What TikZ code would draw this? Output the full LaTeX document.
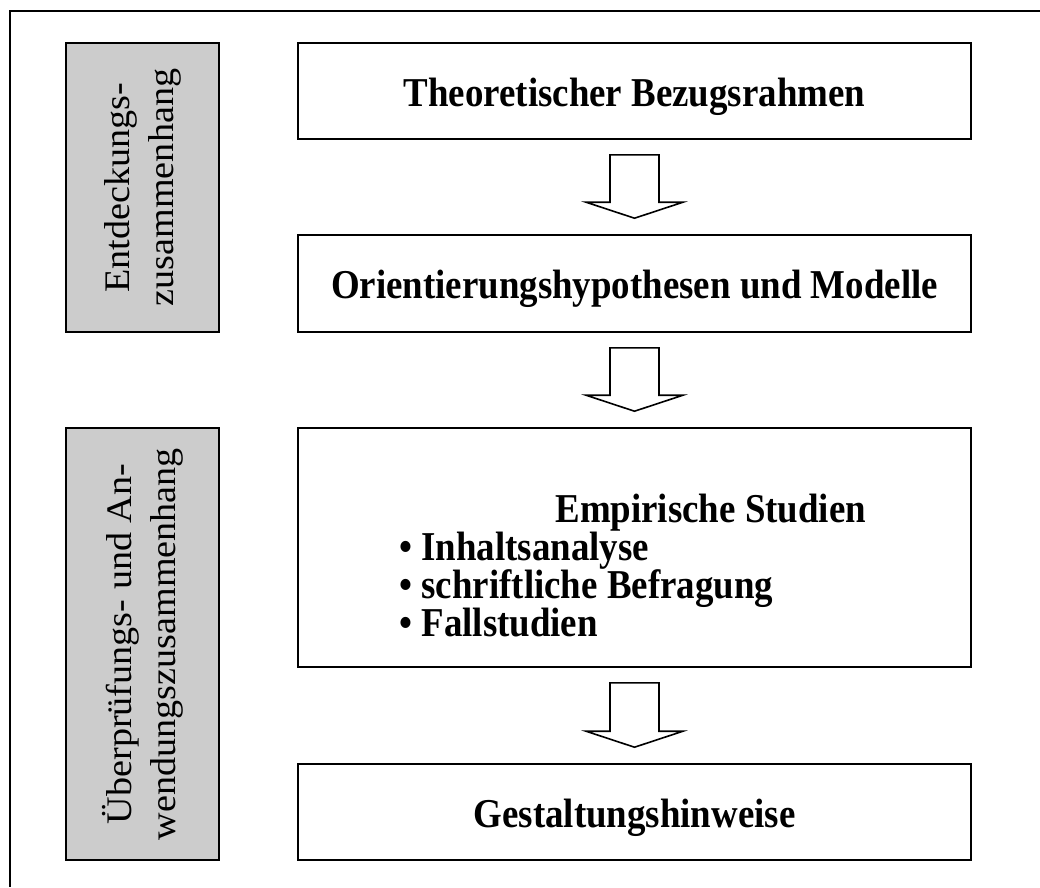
\documentclass[tikz,border=0pt]{standalone}
\usepackage{fontspec}
\setmainfont{Liberation Serif}
% narrow face for the stage boxes, wide face for the rotated phase labels
\newfontfamily\stagefont[FakeStretch=0.9]{Liberation Serif}
\newfontfamily\phasefont[FakeStretch=1.06]{Liberation Serif}
\usetikzlibrary{calc}
\definecolor{phasegray}{RGB}{204,204,204}
% hollow block arrow between two stacked boxes
\newcommand{\flowarrow}[2]{%
  \draw[flowarrow] let \p1=(#1.south), \p2=(#2.north) in
    (\x1-24.5pt,\y1-15pt) -- (\x1+24.5pt,\y1-15pt) -- (\x1+24.5pt,\y2+32pt)
    -- (\x1+48.5pt,\y2+32pt) -- (\x1,\y2+16pt) -- (\x1-48.5pt,\y2+32pt)
    -- (\x1-24.5pt,\y2+32pt) -- cycle;}
\begin{document}
\begin{tikzpicture}[x=1pt,y=-1pt,
  stage/.style={draw=black, line width=1.6pt, fill=white, minimum width=673pt,
    inner sep=0pt, text height=30pt, text depth=0pt,
    font=\stagefont\fontsize{41}{44}\selectfont\bfseries},
  phase/.style={draw=black, line width=1.6pt, fill=phasegray,
    minimum width=153pt, inner sep=0pt},
  phasetext/.style={rotate=90, align=center, inner sep=0pt,
    font=\phasefont\fontsize{36}{44}\selectfont},
  itemtext/.style={anchor=base west, inner sep=0pt,
    font=\stagefont\fontsize{41}{44}\selectfont\bfseries},
  flowarrow/.style={draw=black, line width=1.6pt, fill=white, line join=miter}]

\useasboundingbox (0,0) rectangle (1040,887);

% outer frame (open to the right and bottom)
\draw[line width=1.6pt] (1040,11) -- (10,11) -- (10,887);

% phase boxes
\node[phase, minimum height=289pt] (p1) at (142.5,187.5) {};
\node[phasetext] (p1t) at (p1.center) {Entdeckungs-\\zusammenhang};
\node[phase, minimum height=432pt] (p2) at (142.5,644) {};
\node[phasetext] (p2t) at (p2.center) {Überprüfungs- und An-\\wendungszusammenhang};

% research stages
\node[stage, minimum height=96pt] (b1) at (634.5,91) {Theoretischer Bezugsrahmen};
\node[stage, minimum height=97pt] (b2) at (634.5,283.5) {Orientierungshypothesen und Modelle};
\node[stage, minimum height=239pt] (b3) at (634.5,547.5) {};
\node[stage, minimum height=96pt] (b4) at (634.5,812) {Gestaltungshinweise};

\node[itemtext] (st) at ($(b3.north west)+(258,95.5)$) {Empirische Studien};
\node[itemtext] (s1) at ($(b3.north west)+(102,133.5)$) {\textbullet\ Inhaltsanalyse};
\node[itemtext] (s2) at ($(b3.north west)+(102,171.5)$) {\textbullet\ schriftliche Befragung};
\node[itemtext] (s3) at ($(b3.north west)+(102,209.5)$) {\textbullet\ Fallstudien};

% arrows between stages
\flowarrow{b1}{b2}
\flowarrow{b2}{b3}
\flowarrow{b3}{b4}
\end{tikzpicture}
\end{document}
